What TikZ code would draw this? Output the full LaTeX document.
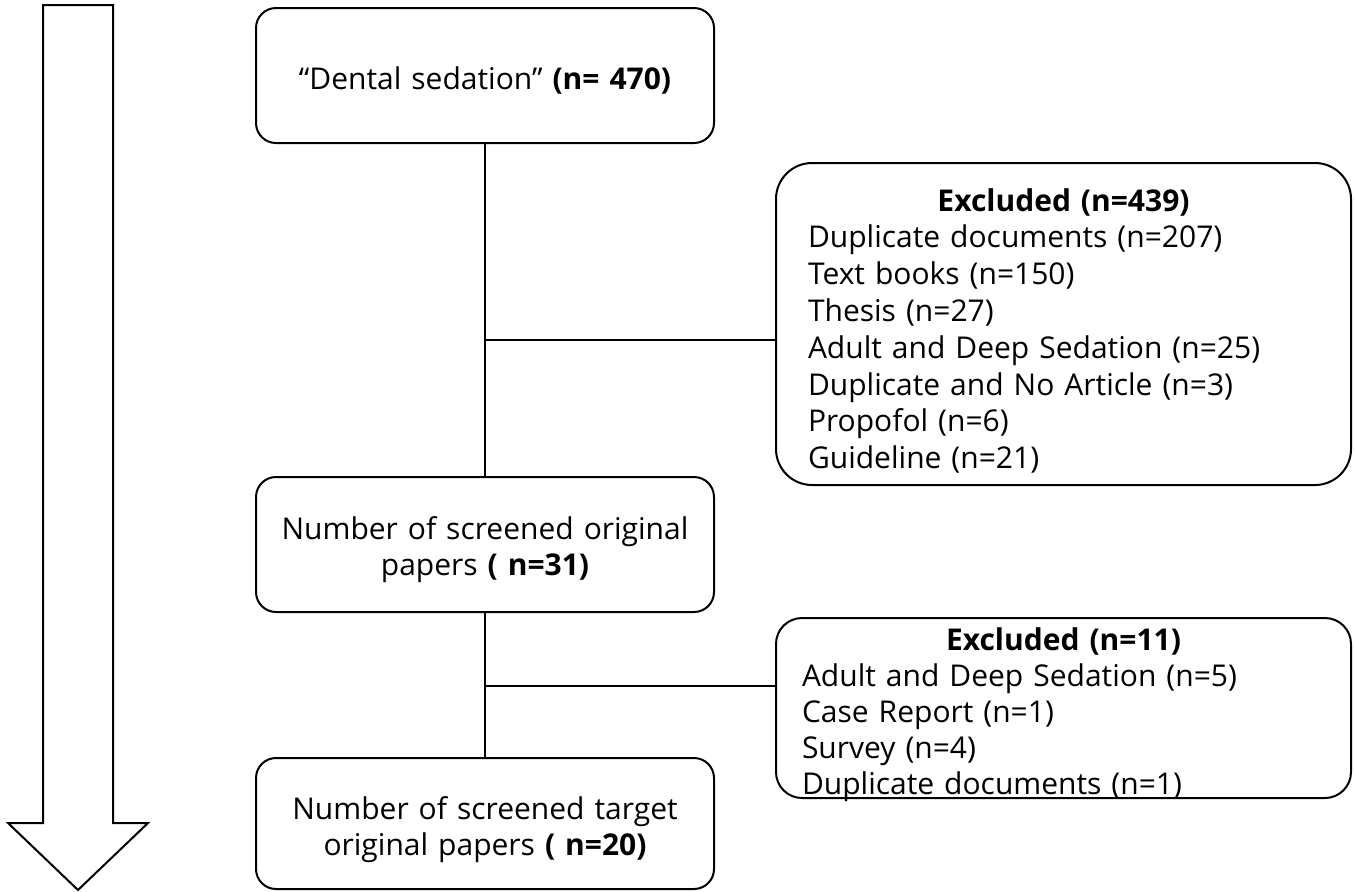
\documentclass[tikz,border=0pt]{standalone}
\usepackage{fontspec}
\setmainfont{Open Sans}
\usepackage{tikz}
\usetikzlibrary{positioning,calc}
\tikzset{
  stage/.style={rectangle, draw=black, line width=1pt, rounded corners=10pt, minimum width=229pt, minimum height=67.5pt, inner sep=0pt, text width=229pt, align=center},
  excl/.style={rectangle, draw=black, line width=1pt, minimum width=287.5pt, inner ysep=0pt, align=left},
  link/.style={draw=black, line width=1pt},
}

\begin{document}
\begin{tikzpicture}[
  x=0.5pt, y=-0.5pt,
  font=\fontsize{15}{18.4}\selectfont
]
  \useasboundingbox (0,0) rectangle (1355,891);

  % flow arrow on the left
  \draw[line width=1pt, line join=miter] (43,5) -- (113,5) -- (113,823) -- (148,823)
    -- (78,890) -- (8,823) -- (43,823) -- cycle;

  \node[stage] (search) at (485,75.5) {\rule{0pt}{16.5pt}“Dental sedation” \textbf{(n= 470)}};
  \node[stage] (screened) at (485,544.5) {\rule{0pt}{16.5pt}Number of screened original\\papers \textbf{( n=31)}};
  \node[stage, minimum height=65.5pt] (target) at (485,823.5) {\rule{0pt}{17.5pt}Number of screened target\\original papers \textbf{( n=20)}};

  \node[excl, rounded corners=18pt, minimum height=161pt, inner xsep=16pt, text width=255.5pt] (excl1) at (1063.5,324) {%
    \makebox[\linewidth][c]{\rule{0pt}{18.3pt}\textbf{Excluded (n=439)}}\\
    Duplicate documents (n=207)\\
    Text books (n=150)\\
    Thesis (n=27)\\
    Adult and Deep Sedation (n=25)\\
    Duplicate and No Article (n=3)\\
    Propofol (n=6)\\
    Guideline (n=21)};
  % last line runs onto the lower border, as in the source
  \node[excl, rounded corners=13pt, minimum height=90pt, inner xsep=13pt, text width=261.5pt,
        text height=10pt, text depth=68pt, font=\fontsize{15}{18}\selectfont] (excl2) at (1063.5,708) {%
    \makebox[\linewidth][c]{\textbf{Excluded (n=11)}}\\
    Adult and Deep Sedation (n=5)\\
    Case Report (n=1)\\
    Survey (n=4)\\
    Duplicate documents (n=1)};

  \coordinate (j1) at (485,340);
  \coordinate (j2) at (485,686);

  \draw[link] (search.south) -- (screened.north);
  \draw[link] (j1) -- (j1 -| excl1.west);
  \draw[link] (screened.south) -- (target.north);
  \draw[link] (j2) -- (j2 -| excl2.west);
\end{tikzpicture}
\end{document}
